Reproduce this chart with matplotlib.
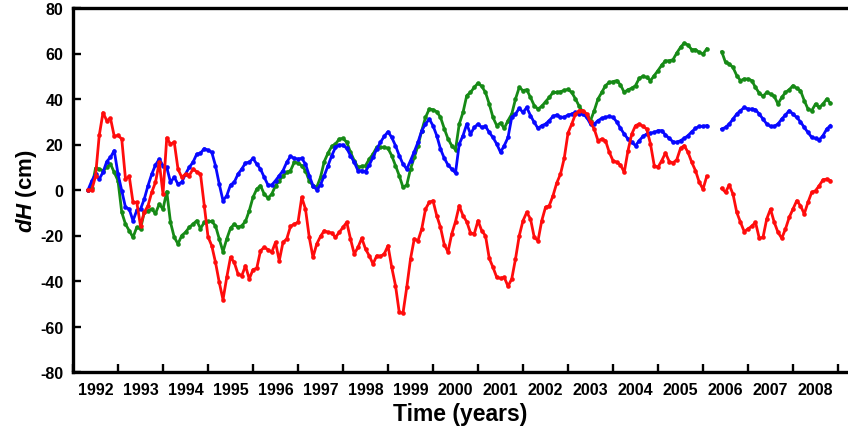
import numpy as np
import matplotlib
matplotlib.use("Agg")
import matplotlib.pyplot as plt
from matplotlib.ticker import FixedLocator, NullFormatter, FixedFormatter

nan = np.nan

# monthly samples starting at 1992.333
start_year = 1992 + 1/3

red = [0, 0, 6, 24, 34, 30.5, 31.5, 23.6, 24, 22.4, 4.8, 6, -5.4, -5.4, -15.7, -9.8, -6.9, -1, 3.4, 12.2,
       -1.8, 22.9, 20.2, 21, 9.2, 5.6, 7, 6.3, 9.2, 8, 7, -6.9, -20.5, -24.5, -31.8, -40.6, -48.2, -38.4, -29.6, -31.8,
       -36.9, -37.7, -33.3, -39.1, -35, -34.4, -26.7, -25.2, -26.2, -27.4, -23, -31.1, -23, -21.5, -16, -15, -14.2, -3.2, -8.4, -20.8,
       -29.6, -23.7, -20.4, -17.9, -18.6, -18.9, -20.8, -18.6, -16.4, -14.2, -21.5, -28.1, -25.2, -21.2, -25.9, -28.9, -32.5, -28.9, -29.2, -28.1,
       -24.5, -34, -42, -53.8, -54.1, -42.8, -30.3, -21.5, -22.3, -17.1, -8.4, -5.4, -4.7, -11.3, -16.4, -24, -27.2, -19.3, -13.9, -6.9,
       -11.3, -13.9, -18.9, -19.3, -13.5, -17.9, -20.1, -30, -34, -38.4, -38.8, -38.4, -42.3, -39.1, -30.3, -20.1, -13.5, -9.8, -12.7, -20.8,
       -22.3, -13.5, -7.6, -6.9, -2.5, 3.1, 7, 14, 25, 29, 33.4, 34.9, 34.9, 33.4, 29.7, 26.8, 21.7, 22.4, 21.7, 16.6,
       12.9, 12.2, 11, 7.8, 17.3, 24.6, 28.3, 29, 28, 26.8, 20.2, 10.7, 10, 12.9, 16.3, 12.5, 11.9, 13.3, 18.3, 19.5,
       16.6, 12.2, 8.5, 3.4, 0.4, 6, nan, nan, nan, 0.7, -1, 2.2, -1.8, -9.8, -14.2, -18.3, -17.1, -15.9, -14.2, -21.2,
       -20.8, -12.7, -8.4, -14.2, -18.6, -21.2, -17.1, -12, -8.4, -4.7, -6.9, -10.5, -5.4, -1, -0.3, 1.9, 4.5, 4.8, 4.1]

green = [0, 1, 9.5, 9.2, 8.5, 10, 11.4, 7.8, 4.1, -9.8, -15, -17.9, -20.8, -16.4, -17.1, -9.8, -9.1, -8.4, -10.3, -6.2,
         -8.4, -0.7, -14.2, -20.8, -23.7, -20, -18.6, -16.4, -15, -13.5, -17, -14.2, -13.8, -13.8, -15.7, -21.5, -27.1, -21.5, -16.8, -15,
         -16.4, -15.7, -13.8, -9.1, -3.2, 0.4, 1.9, -1.8, -3.5, -1.8, 1.9, 4.1, 6.3, 7.8, 8.5, 12.2, 11.9, 10.7, 8.5, 4.1,
         1.9, 1.2, 5.6, 12.5, 16.2, 19.2, 20.2, 22.4, 22.7, 21, 16.6, 12.9, 10, 10.4, 10.7, 13.6, 15.8, 18.8, 18.8, 18.8,
         18.3, 15.1, 10.7, 6.3, 1.2, 2.2, 9.2, 14.4, 19.5, 26.1, 31.9, 35.6, 35.3, 34.4, 32, 27, 22.5, 19.5, 17.7, 29,
         34.1, 41.5, 42.9, 45.1, 47, 45.6, 42.9, 37.8, 31.9, 28.3, 29.5, 27.1, 30.5, 33.4, 40, 45.1, 43.7, 44.1, 40.7, 37.1,
         35.6, 36.8, 38.8, 40.7, 42.9, 42.9, 43.2, 43.8, 44.2, 42.9, 40, 36.8, 34.1, 32.4, 30.5, 34.9, 40, 42.9, 45.9, 47.3,
         47.6, 48.1, 46.2, 42.9, 44.1, 44.7, 45.9, 49.1, 50, 49.5, 48.1, 50.3, 52.5, 54.9, 56.8, 56.8, 57.3, 60.2, 62.7, 64.6,
         63.7, 61.7, 61.7, 60.5, 59.8, 62, nan, nan, nan, 60.8, 56.1, 55.4, 53.9, 50.3, 48.1, 48.8, 48.8, 48.1, 45.1, 42.6,
         41.2, 42.9, 42.2, 41.2, 37.8, 40.7, 42.9, 44.1, 45.9, 44.7, 43.7, 39.3, 35.6, 34.9, 37.8, 36.3, 37.8, 40, 38.2]

blue = [0, 4, 7, 4.8, 7.8, 12.5, 14.4, 17.3, 7, -0.3, -7.6, -8.4, -13.5, -9, -8.4, -4, 1.9, 7, 11, 13.6,
        10.7, 10, 3.4, 5.6, 2.6, 3.4, 7, 10, 12.2, 15.8, 16.2, 18.2, 17.5, 16.6, 10.7, 2.6, -4.7, -2.5, 2.2, 3.4,
        7, 9.2, 11.9, 12.2, 13.9, 11.4, 9.2, 5.6, 2.2, 2.2, 4.1, 6.3, 8.5, 12.2, 14.8, 13.9, 13.6, 13.9, 11.4, 6.3,
        1.9, 0.1, 2.3, 6.3, 10.7, 15.1, 18.8, 19.8, 19.8, 18.3, 15.1, 12.2, 8.5, 8.5, 8.1, 11, 14.4, 18, 21, 23.6,
        25.6, 23.1, 19.5, 15.1, 11.4, 9.2, 12.9, 16.8, 21, 26.1, 29, 31.2, 28.3, 23.9, 18, 14, 11, 9.2, 7.5, 20.2,
        23.9, 29, 24.6, 27.5, 29, 27.5, 28, 25.3, 23.1, 20.2, 16.6, 19.5, 23.1, 31.9, 33.4, 35.9, 34.1, 36.3, 32.7, 29.7,
        27.1, 28.3, 29, 30.5, 32.4, 33, 31.9, 32.1, 32.9, 33.4, 34.1, 33.4, 33.4, 31.9, 29, 29, 30.5, 31.5, 31.9, 32.4,
        31.9, 30, 27.1, 24.6, 22.4, 21, 19.5, 21.7, 23.6, 24.6, 25, 25.3, 26.1, 26.1, 24.2, 22.7, 21.2, 21, 21.7, 22.7,
        23.9, 25.6, 27.1, 28, 28, 28.3, nan, nan, nan, 26.8, 27.5, 29, 31.2, 33.4, 34.9, 36.3, 35.6, 35.6, 35.3, 33.4,
        31.2, 29, 28, 28, 29, 31.2, 33, 34.9, 33.4, 31.9, 30, 27.5, 25.3, 23.1, 22.7, 22.1, 23.9, 26.8, 28.3]

year_labels = [str(y) for y in range(1992, 2009)]

t = start_year + np.arange(len(red)) / 12.0

plt.rcParams['font.family'] = ['Liberation Sans', 'DejaVu Sans']
plt.rcParams['font.weight'] = 'bold'
plt.rcParams['axes.unicode_minus'] = False
plt.rcParams['mathtext.fontset'] = 'custom'
plt.rcParams['mathtext.it'] = 'Liberation Sans:italic:bold'
plt.rcParams['mathtext.rm'] = 'Liberation Sans:bold'

fig = plt.figure(figsize=(8.48, 4.27), dpi=100)
ax = fig.add_axes([73/848, 1 - 373/427, 1 - 73/848, (373 - 9)/427])

kw = dict(lw=2.0, marker='o', ms=3.3, mew=0)
ax.plot(t, green, color='#168a16', **kw)
ax.plot(t, blue, color='#0808ff', **kw)
ax.plot(t, red, color='#ff0c0c', **kw)

ax.set_xlim(1992, 1992 + (848 - 73) / 45)
ax.set_ylim(-80, 80)
ax.set_yticks(np.arange(-80, 81, 20))

ax.xaxis.set_major_locator(FixedLocator(np.arange(1992, 2010)))
ax.xaxis.set_major_formatter(NullFormatter())
ax.xaxis.set_minor_locator(FixedLocator(np.arange(1992, 2009) + 0.5))
ax.xaxis.set_minor_formatter(FixedFormatter(year_labels))

ax.tick_params(axis='y', which='major', direction='in', length=6, width=1.7, labelsize=11.5, pad=7)
ax.tick_params(axis='x', which='major', direction='in', length=6, width=1.7, top=False)
ax.tick_params(axis='x', which='minor', length=0, labelsize=11.5, pad=7)

for s in ['left', 'top', 'bottom']:
    ax.spines[s].set_linewidth(2.4)
ax.spines['right'].set_visible(False)

ax.set_xlabel('Time (years)', fontsize=16.5, fontweight='bold', labelpad=4)
ax.set_ylabel(r'$dH$ (cm)', fontsize=16, fontweight='bold', labelpad=1)

fig.savefig('out.png', dpi=100)
